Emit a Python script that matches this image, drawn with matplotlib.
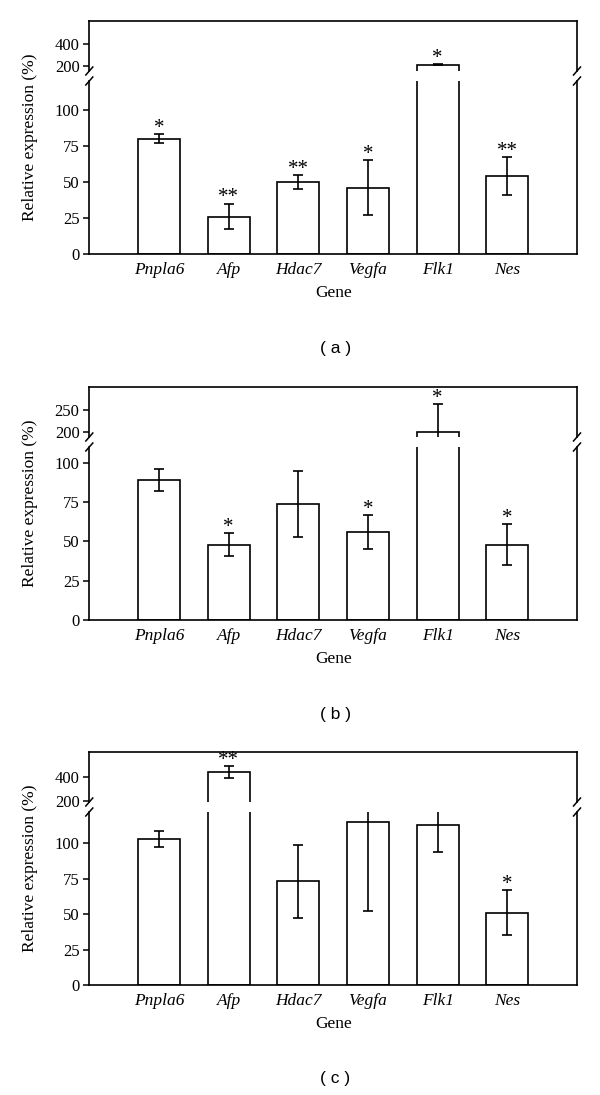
import matplotlib
matplotlib.use("Agg")
import matplotlib.pyplot as plt
from matplotlib.lines import Line2D

genes = ["Pnpla6", "Afp", "Hdac7", "Vegfa", "Flk1", "Nes"]

# Panel (a)
vals_a = [80, 26, 50, 46, 217, 54]
errs_a = [3, 9, 5, 19, 8, 13]
stars_a = ["*", "**", "**", "*", "*", "**"]

# Panel (b)
vals_b = [89, 48, 74, 56, 200, 48]
errs_b = [7, 7.5, 21, 11, 63, 13]
stars_b = ["", "*", "", "*", "*", "*"]

# Panel (c)
vals_c = [103, 435, 73, 115, 113, 51]
errs_c = [5.5, 50, 26, 63, 19, 16]
stars_c = ["", "**", "", "", "", "*"]

top_ticks_a = [200, 400]
top_ticks_b = [200, 250]
top_ticks_c = [200, 400]
bot_ticks = [0, 25, 50, 75, 100]
panel_labels = ["( a )", "( b )", "( c )"]

W, H = 600, 1095
fig = plt.figure(figsize=(W / 100, H / 100), dpi=100)
fig.patch.set_facecolor("white")

SERIF = ["Liberation Serif", "DejaVu Serif"]
SANS = ["Liberation Sans", "DejaVu Sans"]

xl, xr = 89.3, 577.0


def fbox(x0, y0, x1, y1):
    """pixel box (y down) -> figure fraction rect"""
    return [x0 / W, 1 - y1 / H, (x1 - x0) / W, (y1 - y0) / H]


def slash(xp, yp):
    line = Line2D([(xp - 3.5) / W, (xp + 3.5) / W],
                  [1 - (yp + 4) / H, 1 - (yp - 4) / H],
                  transform=fig.transFigure, color="black", lw=1.1)
    fig.add_artist(line)


def panel(off, vals, errs, stars, top_lim, top_ticks, bot_lim, label):
    t0, t1 = 21 + off, 71 + off
    b0, b1 = 81 + off, 254 + off
    axt = fig.add_axes(fbox(xl, t0, xr, t1))
    axb = fig.add_axes(fbox(xl, b0, xr, b1))
    x = list(range(len(genes)))
    for ax, lim in ((axt, top_lim), (axb, bot_lim)):
        ax.bar(x, vals, width=0.6, color="white", edgecolor="black",
               linewidth=1.2, zorder=2)
        ax.errorbar(x, vals, yerr=errs, fmt="none", ecolor="black",
                    elinewidth=1.2, capsize=3.5, capthick=1.2, zorder=3)
        ax.set_ylim(*lim)
        ax.set_xlim(-1, 6)
        for s in ax.spines.values():
            s.set_linewidth(1.2)
        ax.tick_params(axis="y", direction="out", length=4, width=1.1,
                       labelsize=12, pad=3)
        ax.tick_params(axis="x", length=0)
    axt.spines["bottom"].set_visible(False)
    axb.spines["top"].set_visible(False)
    axt.set_xticks([])
    axt.set_yticks(top_ticks)
    axt.set_yticklabels([str(t) for t in top_ticks], family=SERIF, fontsize=12)
    axb.set_yticks(bot_ticks)
    axb.set_yticklabels([str(t) for t in bot_ticks], family=SERIF, fontsize=12)
    axb.set_xticks(x)
    axb.set_xticklabels(genes, family=SERIF, style="italic", fontsize=12.5)
    axb.tick_params(axis="x", pad=6)
    axb.set_xlabel("Gene", family=SERIF, fontsize=12.5, labelpad=5)

    for i, (v, e, s) in enumerate(zip(vals, errs, stars)):
        if not s:
            continue
        top = v + e
        ax = axt if top > bot_lim[1] else axb
        ax.annotate(s, (i, top), xytext=(0, 0.8), textcoords="offset points",
                    ha="center", va="baseline", family=SERIF, fontsize=15,
                    zorder=4)

    for xp in (xl, xr):
        slash(xp, t1)
        slash(xp, b0)

    fig.text(30 / W, 1 - ((t0 + b1) / 2) / H, "Relative expression (%)",
             rotation=90, ha="center", va="center", family=SERIF, fontsize=12.5)
    fig.text(((xl + xr) / 2 + 2) / W, 1 - (348 + off) / H, label,
             ha="center", va="center", family=SANS, fontsize=12.5)


panel(0, vals_a, errs_a, stars_a, (160, 600), top_ticks_a, (0, 120), panel_labels[0])
panel(366, vals_b, errs_b, stars_b, (190, 300), top_ticks_b, (0, 110), panel_labels[1])
panel(731, vals_c, errs_c, stars_c, (192, 600), top_ticks_c, (0, 122), panel_labels[2])

fig.savefig("out.png", dpi=100, facecolor="white")
